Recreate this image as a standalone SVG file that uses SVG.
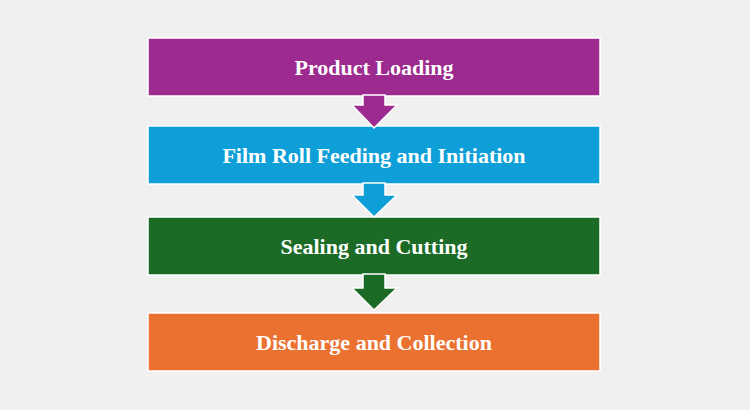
<svg xmlns="http://www.w3.org/2000/svg" width="750" height="410" viewBox="0 0 750 410">
<style>
.b{stroke:#fff;stroke-width:1.5}
.t{font-family:"Liberation Serif",serif;font-weight:bold;font-size:22px;fill:#fff;text-anchor:middle}
.a{stroke:#fff;stroke-width:1.5}
</style>
<rect width="750" height="410" fill="#f0f0f0"/>
<g id="n1"><rect class="b" x="148" y="38" width="452" height="58" fill="#9c2a8f"/><text class="t" x="374" y="75">Product Loading</text></g>
<g id="n2"><rect class="b" x="148" y="126" width="452" height="58" fill="#0f9fd8"/><text class="t" x="374" y="163">Film Roll Feeding and Initiation</text></g>
<g id="n3"><rect class="b" x="148" y="217" width="452" height="58" fill="#1b6b26"/><text class="t" x="374" y="254">Sealing and Cutting</text></g>
<g id="n4"><rect class="b" x="148" y="313" width="452" height="58" fill="#eb7131"/><text class="t" x="374" y="350">Discharge and Collection</text></g>
<g id="connectors">
<polygon class="a" fill="#9c2a8f" points="363,95 385,95 385,105 397,105 374,128 352,105 363,105"/>
<polygon class="a" fill="#0f9fd8" points="363,183 385,183 385,195 397,195 374,217 352,195 363,195"/>
<polygon class="a" fill="#1b6b26" points="363,274 385,274 385,288 397,288 374,310 352,288 363,288"/>
</g>
</svg>
